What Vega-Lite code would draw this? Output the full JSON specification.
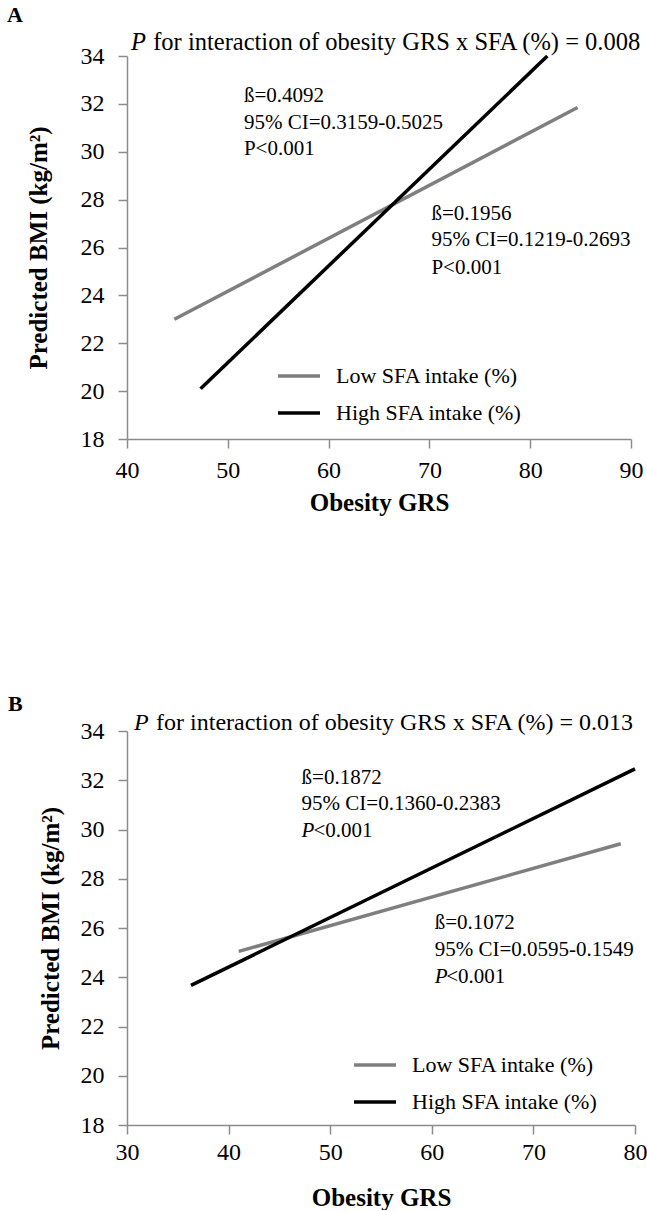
{
  "$schema": "https://vega.github.io/schema/vega-lite/v6.json",
  "background": "white",
  "padding": {"left": 7, "top": 4, "right": 0, "bottom": 0},
  "config": {
    "font": "Liberation Serif",
    "view": {"stroke": null},
    "axis": {
      "grid": false,
      "domainColor": "#8c8c8c",
      "tickColor": "#8c8c8c",
      "domainWidth": 1.5,
      "tickWidth": 1.5,
      "tickSize": 9,
      "labelFlush": false,
      "labelColor": "#000000",
      "labelFont": "Liberation Serif",
      "labelFontSize": 24,
      "labelPadding": 10,
      "titleFont": "Liberation Serif",
      "titleFontSize": 25,
      "titleFontWeight": "bold",
      "titleColor": "#000000"
    },
    "legend": {
      "title": null,
      "symbolType": "stroke",
      "symbolStrokeWidth": 3.5,
      "symbolSize": 1764,
      "labelFont": "Liberation Serif",
      "labelFontSize": 22,
      "labelColor": "#000000",
      "labelLimit": 400,
      "labelOffset": 14,
      "padding": 0,
      "rowPadding": 3
    },
    "title": {"font": "Liberation Serif", "fontSize": 22, "fontWeight": "bold", "color": "#000000", "anchor": "start", "frame": "bounds"}
  },
  "datasets": {
    "lines": [
      {"panel": "A", "group": "Low SFA intake (%)", "grs": 44.7, "bmi": 23.0},
      {"panel": "A", "group": "Low SFA intake (%)", "grs": 84.7, "bmi": 31.85},
      {"panel": "A", "group": "High SFA intake (%)", "grs": 47.3, "bmi": 20.1},
      {"panel": "A", "group": "High SFA intake (%)", "grs": 81.7, "bmi": 34.0},
      {"panel": "B", "group": "Low SFA intake (%)", "grs": 41.0, "bmi": 25.05},
      {"panel": "B", "group": "Low SFA intake (%)", "grs": 78.6, "bmi": 29.42},
      {"panel": "B", "group": "High SFA intake (%)", "grs": 36.3, "bmi": 23.67},
      {"panel": "B", "group": "High SFA intake (%)", "grs": 80.0, "bmi": 32.46}
    ],
    "notes": [
      {"panel": "A", "grs": 40.4, "bmi": 34.54, "label": "P"},
      {"panel": "A", "grs": 42.6, "bmi": 34.54, "label": "for interaction of obesity GRS x SFA (%) = 0.008"},
      {"panel": "A", "grs": 51.6, "bmi": 32.33, "label": "ß=0.4092"},
      {"panel": "A", "grs": 51.6, "bmi": 31.2, "label": "95% CI=0.3159-0.5025"},
      {"panel": "A", "grs": 51.6, "bmi": 30.1, "label": "P<0.001"},
      {"panel": "A", "grs": 70.2, "bmi": 27.4, "label": "ß=0.1956"},
      {"panel": "A", "grs": 70.2, "bmi": 26.3, "label": "95% CI=0.1219-0.2693"},
      {"panel": "A", "grs": 70.2, "bmi": 25.15, "label": "P<0.001"},
      {"panel": "B", "grs": 30.68, "bmi": 34.33, "label": "P"},
      {"panel": "B", "grs": 32.86, "bmi": 34.33, "label": "for interaction of obesity GRS x SFA (%) = 0.013"},
      {"panel": "B", "grs": 47.18, "bmi": 32.09, "label": "ß=0.1872"},
      {"panel": "B", "grs": 47.18, "bmi": 31.04, "label": "95% CI=0.1360-0.2383"},
      {"panel": "B", "grs": 47.18, "bmi": 29.95, "label": "P"},
      {"panel": "B", "grs": 48.35, "bmi": 29.95, "label": "<0.001"},
      {"panel": "B", "grs": 60.28, "bmi": 26.2, "label": "ß=0.1072"},
      {"panel": "B", "grs": 60.28, "bmi": 25.11, "label": "95% CI=0.0595-0.1549"},
      {"panel": "B", "grs": 60.28, "bmi": 24.03, "label": "P"},
      {"panel": "B", "grs": 61.42, "bmi": 24.03, "label": "<0.001"}
    ]
  },
  "resolve": {"legend": {"color": "independent"}, "scale": {"x": "independent"}},
  "spacing": 177,
  "vconcat": [
    {
      "width": 504,
      "height": 383,
      "title": {"text": "A", "dx": -19, "offset": 3},
      "layer": [
        {
          "data": {"name": "lines"},
          "transform": [{"filter": "datum.panel === 'A'"}],
          "mark": {"type": "line", "strokeWidth": 3.5, "strokeCap": "butt"},
          "encoding": {
            "x": {"field": "grs", "type": "quantitative", "scale": {"domain": [40, 90], "nice": false}, "axis": {"values": [40, 50, 60, 70, 80, 90], "title": "Obesity GRS", "labelPadding": 10, "titlePadding": 8}},
            "y": {"field": "bmi", "type": "quantitative", "scale": {"domain": [18, 34], "nice": false, "zero": false}, "axis": {"values": [18, 20, 22, 24, 26, 28, 30, 32, 34], "title": "Predicted  BMI (kg/m²)", "labelPadding": 14, "titlePadding": 29}},
            "color": {"field": "group", "type": "nominal", "scale": {"domain": ["Low SFA intake (%)", "High SFA intake (%)"], "range": ["#7f7f7f", "#000000"]}, "legend": {"orient": "none", "legendX": 149, "legendY": 297}}
          }
        },
        {
          "data": {"name": "notes"},
          "transform": [{"filter": "datum.panel === 'A' && datum.label !== 'P' && indexof(datum.label, 'for interaction') < 0"}],
          "mark": {"type": "text", "align": "left", "baseline": "middle", "fontSize": 21, "font": "Liberation Serif"},
          "encoding": {
            "x": {"field": "grs", "type": "quantitative"},
            "y": {"field": "bmi", "type": "quantitative"},
            "text": {"field": "label"}
          }
        },
        {
          "data": {"name": "notes"},
          "transform": [{"filter": "datum.panel === 'A' && indexof(datum.label, 'for interaction') >= 0"}],
          "mark": {"type": "text", "align": "left", "baseline": "middle", "fontSize": 24.5, "font": "Liberation Serif"},
          "encoding": {
            "x": {"field": "grs", "type": "quantitative"},
            "y": {"field": "bmi", "type": "quantitative"},
            "text": {"field": "label"}
          }
        },
        {
          "data": {"name": "notes"},
          "transform": [{"filter": "datum.panel === 'A' && datum.label === 'P'"}],
          "mark": {"type": "text", "align": "left", "baseline": "middle", "fontSize": 24.5, "fontStyle": "italic", "font": "Liberation Serif"},
          "encoding": {
            "x": {"field": "grs", "type": "quantitative"},
            "y": {"field": "bmi", "type": "quantitative"},
            "text": {"field": "label"}
          }
        }
      ]
    },
    {
      "width": 508,
      "height": 394,
      "title": {"text": "B", "dx": -30, "offset": -5},
      "layer": [
        {
          "data": {"name": "lines"},
          "transform": [{"filter": "datum.panel === 'B'"}],
          "mark": {"type": "line", "strokeWidth": 3.5, "strokeCap": "butt"},
          "encoding": {
            "x": {"field": "grs", "type": "quantitative", "scale": {"domain": [30, 80], "nice": false}, "axis": {"values": [30, 40, 50, 60, 70, 80], "title": "Obesity GRS", "labelPadding": 6, "titlePadding": 21}},
            "y": {"field": "bmi", "type": "quantitative", "scale": {"domain": [18, 34], "nice": false, "zero": false}, "axis": {"values": [18, 20, 22, 24, 26, 28, 30, 32, 34], "title": "Predicted  BMI (kg/m²)", "labelPadding": 14, "titlePadding": 17}},
            "color": {"field": "group", "type": "nominal", "scale": {"domain": ["Low SFA intake (%)", "High SFA intake (%)"], "range": ["#7f7f7f", "#000000"]}, "legend": {"orient": "none", "legendX": 225, "legendY": 311}}
          }
        },
        {
          "data": {"name": "notes"},
          "transform": [{"filter": "datum.panel === 'B' && datum.label !== 'P' && indexof(datum.label, 'for interaction') < 0"}],
          "mark": {"type": "text", "align": "left", "baseline": "middle", "fontSize": 21, "font": "Liberation Serif"},
          "encoding": {
            "x": {"field": "grs", "type": "quantitative"},
            "y": {"field": "bmi", "type": "quantitative"},
            "text": {"field": "label"}
          }
        },
        {
          "data": {"name": "notes"},
          "transform": [{"filter": "datum.panel === 'B' && indexof(datum.label, 'for interaction') >= 0"}],
          "mark": {"type": "text", "align": "left", "baseline": "middle", "fontSize": 24, "font": "Liberation Serif"},
          "encoding": {
            "x": {"field": "grs", "type": "quantitative"},
            "y": {"field": "bmi", "type": "quantitative"},
            "text": {"field": "label"}
          }
        },
        {
          "data": {"name": "notes"},
          "transform": [{"filter": "datum.panel === 'B' && datum.label === 'P' && datum.bmi > 34"}],
          "mark": {"type": "text", "align": "left", "baseline": "middle", "fontSize": 24, "fontStyle": "italic", "font": "Liberation Serif"},
          "encoding": {
            "x": {"field": "grs", "type": "quantitative"},
            "y": {"field": "bmi", "type": "quantitative"},
            "text": {"field": "label"}
          }
        },
        {
          "data": {"name": "notes"},
          "transform": [{"filter": "datum.panel === 'B' && datum.label === 'P' && datum.bmi < 34"}],
          "mark": {"type": "text", "align": "left", "baseline": "middle", "fontSize": 21, "fontStyle": "italic", "font": "Liberation Serif"},
          "encoding": {
            "x": {"field": "grs", "type": "quantitative"},
            "y": {"field": "bmi", "type": "quantitative"},
            "text": {"field": "label"}
          }
        }
      ]
    }
  ]
}
